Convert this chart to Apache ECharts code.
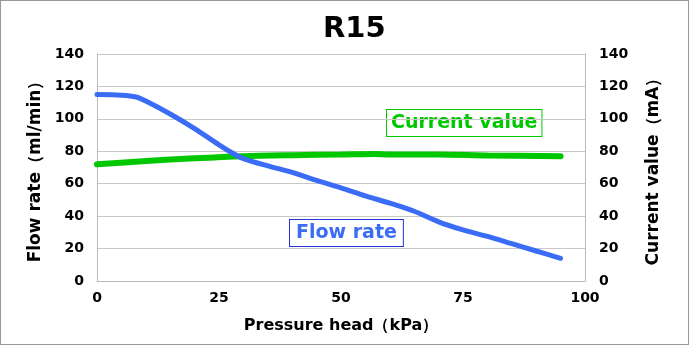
<!DOCTYPE html>
<html><head><meta charset="utf-8">
<script src="https://cdn.jsdelivr.net/npm/echarts@6/dist/echarts.min.js"></script>
<style>html,body{margin:0;padding:0;background:#fff}#c{width:689px;height:345px;box-sizing:border-box;border:1px solid #999}</style>
</head><body><div id="c"></div>
<script>
const pressure = [0, 5, 8, 10, 15, 20, 25, 28, 30, 35, 40, 45, 50, 55, 60, 65, 70, 75, 80, 85, 90, 95];
const flowRate = [115, 114.6, 113.5, 111, 103, 94, 84, 78.5, 75.5, 71, 67, 62, 57.5, 52.5, 48, 43, 36.5, 31.5, 27.5, 23, 18.5, 14];
const currentX = [0, 10, 20, 30, 40, 50, 57, 60, 70, 80, 95];
const currentVal = [72, 74, 75.7, 77, 77.6, 78, 78.4, 78, 78, 77.4, 77];
const xTicks = [0, 25, 50, 75, 100];
const yTicks = [0, 20, 40, 60, 80, 100, 120, 140];

const font = 'DejaVu Sans';
const chart = echarts.init(document.getElementById('c'));
chart.setOption({
  animation: false,
  backgroundColor: '#fff',
  title: { text: 'R15', left: 317, top: 9,
    textStyle: { fontFamily: font, fontWeight: 'bold', fontSize: 29, color: '#000' } },
  grid: { left: 96, right: 103, top: 53, bottom: 63 },
  xAxis: {
    type: 'value', min: xTicks[0], max: xTicks[xTicks.length - 1], interval: 25,
    name: 'Pressure head（kPa）', nameLocation: 'middle', nameGap: 37,
    nameTextStyle: { fontFamily: font, fontWeight: 'bold', fontSize: 16, color: '#000' },
    axisLine: { show: true, lineStyle: { color: '#bbb' } },
    axisTick: { show: false },
    axisLabel: { fontFamily: font, fontWeight: 'bold', fontSize: 14, color: '#000', margin: 10 },
    splitLine: { show: false }
  },
  yAxis: [{
    type: 'value', min: yTicks[0], max: yTicks[yTicks.length - 1], interval: 20,
    name: 'Flow rate（ml/min）', nameLocation: 'middle', nameGap: 52, nameRotate: 90,
    nameTextStyle: { fontFamily: font, fontWeight: 'bold', fontSize: 17, color: '#000' },
    axisLine: { show: true, lineStyle: { color: '#bbb' } },
    axisTick: { show: false },
    axisLabel: { fontFamily: font, fontWeight: 'bold', fontSize: 14, color: '#000', margin: 13 },
    splitLine: { show: true, lineStyle: { color: '#c8c8c8' } }
  }, {
    type: 'value', min: yTicks[0], max: yTicks[yTicks.length - 1], interval: 20, position: 'right',
    name: 'Current value（mA）', nameLocation: 'middle', nameGap: 60, nameRotate: 90,
    nameTextStyle: { fontFamily: font, fontWeight: 'bold', fontSize: 17, color: '#000' },
    axisLine: { show: true, lineStyle: { color: '#bbb' } },
    axisTick: { show: false },
    axisLabel: { fontFamily: font, fontWeight: 'bold', fontSize: 14, color: '#000', margin: 14 },
    splitLine: { show: false }
  }],
  series: [{
    name: 'Flow rate', type: 'line', yAxisIndex: 0, smooth: 0.3, showSymbol: false,
    data: pressure.map((p, i) => [p, flowRate[i]]),
    lineStyle: { color: '#3b6cf6', width: 5, cap: 'round' }, z: 3
  }, {
    name: 'Current value', type: 'line', yAxisIndex: 1, smooth: 0.3, showSymbol: false,
    data: currentX.map((p, i) => [p, currentVal[i]]),
    lineStyle: { color: '#00c800', width: 6, cap: 'round' }, z: 2
  }],
  graphic: [{
    type: 'text', left: 385, top: 108,
    style: { text: 'Current value', fontFamily: font, fontWeight: 'bold', fontSize: 19, fill: '#00c800',
      backgroundColor: '#fff', borderColor: '#00c800', borderWidth: 1, padding: [4, 4, 3, 4] }
  }, {
    type: 'text', left: 288, top: 218,
    style: { text: 'Flow rate', fontFamily: font, fontWeight: 'bold', fontSize: 19, fill: '#3b6cf6',
      backgroundColor: '#fff', borderColor: '#2233dd', borderWidth: 1, padding: [4, 6, 3, 6] }
  }]
});
</script></body></html>
